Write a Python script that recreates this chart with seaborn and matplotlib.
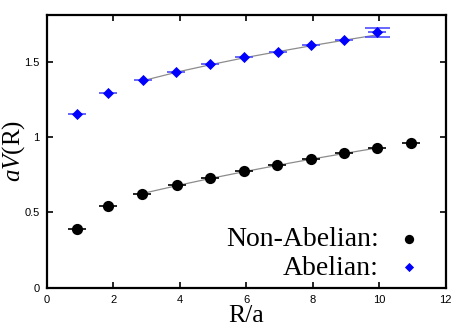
import numpy as np
import pandas as pd
import matplotlib
matplotlib.use("Agg")
import matplotlib.pyplot as plt
import seaborn as sns

# valores
r_nonab = [0.91, 1.85, 2.88, 3.91, 4.91, 5.93, 6.94, 7.94, 8.95, 9.94, 10.95]
v_nonab = [0.390, 0.540, 0.622, 0.679, 0.727, 0.772, 0.816, 0.853, 0.893, 0.929, 0.959]
r_ab = [0.91, 1.85, 2.89, 3.89, 4.91, 5.93, 6.95, 7.94, 8.95, 9.94]
v_ab = [1.149, 1.294, 1.376, 1.433, 1.481, 1.528, 1.565, 1.610, 1.645, 1.693]
xerr_nonab = [0.27] * 11
xerr_ab = [0.27] * 10
yerr_ab_last = 0.029

# curvas de ajuste
fit_r = [2.88, 4.0, 5.0, 6.0, 7.0, 8.0, 9.0, 9.95]
fit_nonab = [0.625, 0.681, 0.728, 0.772, 0.814, 0.854, 0.892, 0.927]
fit_ab = [1.372, 1.434, 1.482, 1.527, 1.567, 1.606, 1.643, 1.677]

x_ticks = [0, 2, 4, 6, 8, 10, 12]
y_ticks = [0, 0.5, 1, 1.5]
y_tick_labels = ["0", "0.5", "1", "1.5"]

sns.set_style("ticks")
plt.rcParams["font.family"] = ["Liberation Sans", "DejaVu Sans"]
plt.rcParams["text.color"] = "black"
plt.rcParams["axes.labelcolor"] = "black"
plt.rcParams["xtick.color"] = "black"
plt.rcParams["ytick.color"] = "black"
plt.rcParams["mathtext.fontset"] = "custom"
plt.rcParams["mathtext.it"] = "Liberation Serif:italic"
plt.rcParams["mathtext.rm"] = "Liberation Serif"

fig = plt.figure(figsize=(4.67, 3.27), dpi=100)
ax = fig.add_axes([0.1, 0.12, 0.854, 0.834])

df_fit = pd.DataFrame({"R": fit_r + fit_r, "V": fit_nonab + fit_ab,
                       "serie": ["n"] * len(fit_r) + ["a"] * len(fit_r)})
sns.lineplot(data=df_fit, x="R", y="V", units="serie", estimator=None,
             color="#8c8c8c", lw=0.9, ax=ax, legend=False, zorder=1)

# barras de erro
ax.errorbar(r_nonab, v_nonab, xerr=xerr_nonab, fmt="none",
            ecolor="black", elinewidth=1.2, zorder=2)
ax.errorbar(r_ab, v_ab, xerr=xerr_ab, fmt="none",
            ecolor=(0.3, 0.3, 1.0), elinewidth=1.2, zorder=2)
ax.errorbar([r_ab[-1]], [v_ab[-1]], yerr=[yerr_ab_last], fmt="none",
            ecolor=(0.3, 0.3, 1.0), elinewidth=1.0, capsize=9, capthick=1.2, zorder=2)

sns.scatterplot(x=r_nonab, y=v_nonab, ax=ax, marker="o", color="black", s=65,
                edgecolor="black", linewidth=0, zorder=3, label="Non-Abelian:")
sns.scatterplot(x=r_ab, y=v_ab, ax=ax, marker="D", color="blue", s=32,
                edgecolor="blue", linewidth=0, zorder=3, label="Abelian:")

ax.set_xlim(0, 12)
ax.set_ylim(0, 1.808)
ax.set_xticks(x_ticks)
ax.set_xticklabels([str(t) for t in x_ticks], fontsize=8)
ax.set_yticks(y_ticks)
ax.set_yticklabels(y_tick_labels, fontsize=8)
ax.tick_params(direction="in", length=4, width=1.2, top=True, right=True,
               labeltop=False, labelright=False, pad=5, color="black")
for s in ax.spines.values():
    s.set_linewidth(1.6)
    s.set_color("black")
    s.set_visible(True)

ax.set_xlabel("R/a", fontsize=18.5, family="Liberation Serif", labelpad=0)
ax.set_ylabel(r"$aV$(R)", fontsize=18, family="Liberation Serif")
ax.yaxis.set_label_coords(-0.05, 0.5)

leg = ax.legend(loc="lower right", bbox_to_anchor=(0.972, -0.015), frameon=False,
                markerfirst=False, prop={"family": "Liberation Serif", "size": 20},
                handletextpad=0.6, labelspacing=0.12, borderaxespad=0.0,
                handlelength=1.0)
leg.legend_handles[0].set_sizes([45])
leg.legend_handles[1].set_sizes([22])

fig.savefig("out.png", dpi=100)
